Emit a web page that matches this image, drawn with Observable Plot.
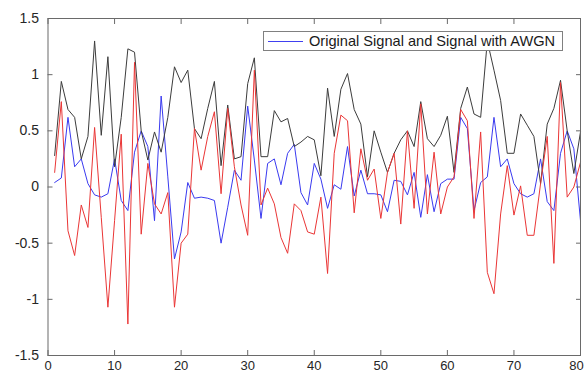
<!DOCTYPE html>
<html><head><meta charset="utf-8">
<script src="https://cdn.jsdelivr.net/npm/d3@7"></script>
<script src="https://cdn.jsdelivr.net/npm/@observablehq/plot@0.6"></script>
<style>
html,body{margin:0;padding:0;background:#fff;}
#wrap{position:relative;width:584px;height:374px;font-family:"Liberation Sans",Arial,sans-serif;overflow:hidden;}
#legend{position:absolute;left:263px;top:31px;width:300px;height:20px;box-sizing:border-box;border:1px solid #808080;background:#fff;display:flex;align-items:center;font-size:14.6px;color:#1a1a1a;white-space:nowrap;}
#legend .sw{display:inline-block;width:35px;height:1px;background:#4040f0;margin:0 6px 0 4px;}
</style></head><body><div id="wrap"></div>
<script>
const xTicks = [0, 10, 20, 30, 40, 50, 60, 70, 80];
const yTicks = [-1.5, -1, -0.5, 0, 0.5, 1, 1.5];
const yTickLabels = ["-1.5", "-1", "-0.5", "0", "0.5", "1", "1.5"];
const legendLabel = "Original Signal and Signal with AWGN";

// sample index 1..80
const blueOriginal = [0.04,0.08,0.62,0.18,0.25,0.03,-0.07,-0.09,-0.06,0.25,
  -0.12,-0.21,0.31,0.50,0.36,-0.30,0.81,0.09,-0.64,-0.40,
  0.04,-0.10,-0.09,-0.10,-0.12,-0.50,-0.18,0.15,0.06,0.72,
  0.24,-0.28,0.21,0.25,0.02,0.30,0.38,-0.05,-0.16,0.21,
  0.07,-0.19,0.02,-0.02,0.36,-0.08,0.15,-0.06,-0.06,-0.07,
  -0.22,0.06,0.05,-0.07,0.13,-0.27,0.11,-0.22,0.03,0.07,
  0.07,0.62,0.52,-0.21,0.04,0.09,0.62,0.18,0.25,0.03,
  -0.06,-0.09,-0.06,0.25,-0.13,-0.21,0.30,0.50,0.34,-0.30];
const blackNoisy = [0.28,0.94,0.69,0.62,0.25,0.45,1.30,0.46,1.16,0.18,
  0.62,1.23,1.20,0.50,0.24,0.49,0.31,0.62,1.07,0.93,
  1.04,0.52,0.43,0.70,0.94,0.19,0.73,0.25,0.27,0.92,
  1.15,0.27,0.27,0.68,0.58,0.61,0.36,0.40,0.45,0.42,
  0.10,0.88,0.45,0.87,1.01,0.69,0.56,0.09,0.50,0.31,
  0.13,0.30,0.42,0.50,0.36,0.76,0.43,0.36,0.46,0.63,
  0.13,0.70,0.89,0.65,0.62,1.30,1.04,0.77,0.30,0.30,
  0.65,0.55,0.45,0.03,0.56,0.70,0.95,0.50,0.12,0.49];
const redNoisy = [0.13,0.76,-0.39,-0.61,-0.16,-0.36,0.53,-0.27,-1.07,-0.30,
  0.47,-1.22,1.11,-0.42,0.21,-0.15,-0.24,-0.05,-1.07,-0.50,
  -0.42,0.52,0.15,0.45,0.67,-0.06,0.70,0.18,-0.16,-0.43,
  1.04,-0.16,-0.01,-0.15,-0.45,-0.59,-0.15,-0.21,-0.40,-0.42,
  -0.09,-0.77,0.30,0.64,0.59,-0.23,0.34,0.06,0.16,-0.28,
  0.13,0.30,-0.33,0.50,-0.19,0.74,-0.24,0.31,-0.24,0.00,
  0.09,0.69,0.59,-0.28,0.49,-0.76,-0.95,-0.24,0.19,-0.25,
  0.01,-0.43,-0.43,0.03,0.45,-0.68,0.93,-0.09,0.00,0.22];

const toRows = arr => arr.map((v, i) => ({x: i + 1, y: v}));
const axisColor = "#6a6a6a";
const labelColor = "#262626";
const xLabelOpts = {anchor: "bottom", tickSize: 0, tickPadding: 5, fontSize: 13, fill: labelColor, label: null};

const chart = Plot.plot({
  width: 584,
  height: 374,
  marginLeft: 47.5,
  marginRight: 4,
  marginTop: 18,
  marginBottom: 19,
  style: {fontFamily: "'Liberation Sans', Arial, sans-serif", background: "#fff", overflow: "visible"},
  x: {domain: [0, 80], axis: null},
  y: {domain: [-1.5, 1.5], axis: null},
  marks: [
    Plot.line(toRows(blueOriginal), {x: "x", y: "y", stroke: "#3a3af0", strokeWidth: 1}),
    Plot.line(toRows(blackNoisy), {x: "x", y: "y", stroke: "#3c3c3c", strokeWidth: 1}),
    Plot.line(toRows(redNoisy), {x: "x", y: "y", stroke: "#ea3636", strokeWidth: 1}),
    Plot.frame({stroke: axisColor, strokeWidth: 1}),
    Plot.axisX(xTicks, {anchor: "bottom", tickSize: -5, fill: "none", stroke: axisColor, label: null}),
    Plot.axisX(xTicks, {anchor: "top", tickSize: -5, fill: "none", stroke: axisColor, label: null}),
    Plot.axisY(yTicks, {anchor: "left", tickSize: -5, fill: "none", stroke: axisColor, label: null}),
    Plot.axisY(yTicks, {anchor: "right", tickSize: -5, fill: "none", stroke: axisColor, label: null}),
    Plot.axisX(xTicks.slice(0, -1), xLabelOpts),
    Plot.axisX(xTicks.slice(-1), {...xLabelOpts, dx: -4}),
    Plot.axisY(yTicks, {anchor: "left", tickSize: 0, tickPadding: 9, fontSize: 14, fill: labelColor, label: null,
      tickFormat: d => yTickLabels[yTicks.indexOf(d)]})
  ]
});
const wrap = document.getElementById("wrap");
wrap.appendChild(chart);
const lg = document.createElement("div");
lg.id = "legend";
const sw = document.createElement("span"); sw.className = "sw";
const tx = document.createElement("span"); tx.textContent = legendLabel;
lg.appendChild(sw); lg.appendChild(tx);
wrap.appendChild(lg);
</script></body></html>
